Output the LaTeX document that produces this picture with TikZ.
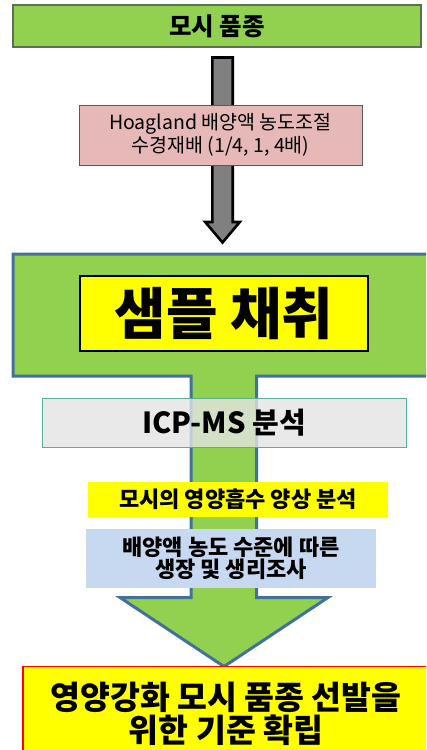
\documentclass[tikz,border=0pt]{standalone}
\usepackage{fontspec}
\setmainfont{Noto Sans CJK KR}
\definecolor{mgreen}{HTML}{92D050}
\definecolor{topedge}{HTML}{5A7050}
\definecolor{bigedge}{HTML}{41719C}
\definecolor{pinkfill}{HTML}{E6B9B8}
\definecolor{pinkedge}{HTML}{595959}
\definecolor{arrowgray}{HTML}{808080}
\definecolor{icpedge}{HTML}{4FB59A}
\definecolor{icpfill}{HTML}{E4E4E4}
\definecolor{bluefill}{HTML}{C6D9F1}
\definecolor{yel}{HTML}{FFFF00}
\begin{document}
\begin{tikzpicture}[x=1pt,y=-1pt,
  box/.style={rectangle, inner sep=0pt, outer sep=0pt, align=center, text=black}]
\useasboundingbox (0,0) rectangle (426,750);
\clip (0,0) rectangle (426,750);
% top box
\node[box, draw=topedge, line width=1.5pt, fill=mgreen, minimum width=408pt, minimum height=42pt,
  font=\fontsize{24.5}{27}\selectfont\bfseries] (top) at (217,26) {모시 품종};
% gray block arrow
\draw[line width=2.6pt, draw=black, fill=arrowgray, miter limit=10]
  (212.3,57.5) -- (232.7,57.5) -- (232.7,222) -- (239.8,222) -- (222.5,242.5)
  -- (205.2,222) -- (212.3,222) -- cycle;
% pink box
\node[box, draw=pinkedge, line width=1pt, fill=pinkfill, minimum width=283pt, minimum height=60pt,
  font=\fontsize{19.5}{22.5}\selectfont] (pink) at (220.5,135) {Hoagland 배양액 농도조절\\수경재배 (1/4, 1, 4배)};
% big green shape
\draw[line width=3pt, draw=bigedge, fill=mgreen, miter limit=10]
  (13,254) -- (440,254) -- (440,376) -- (256.5,376) -- (256.5,597.5) -- (328,597.5)
  -- (224,666.5) -- (120,597.5) -- (191,597.5) -- (191,376) -- (13,376) -- cycle;
% sample box
\node[box, draw=black, line width=1.2pt, fill=yel, minimum width=288pt, minimum height=75pt,
  font=\fontsize{56}{60}\selectfont\bfseries] (sample) at (224,313.5) {샘플 채취};
% ICP box
\node[box, draw=icpedge, line width=1pt, fill=icpfill, fill opacity=0.8, text opacity=1,
  minimum width=364pt, minimum height=49pt,
  font=\fontsize{29}{32}\selectfont\bfseries] (icp) at (224,422.5) {ICP-MS 분석};
% yellow box
\node[box, fill=yel, minimum width=300pt, minimum height=35pt,
  font=\fontsize{22}{25}\selectfont\bfseries] (yellow) at (238,499.5) {모시의 영양흡수 양상 분석};
% blue box
\node[box, fill=bluefill, minimum width=290pt, minimum height=59pt,
  font=\fontsize{22}{22}\selectfont\bfseries] (blue) at (231,558.5) {배양액 농도 수준에 따른\\생장 및 생리조사};
% bottom box
\node[box, draw=red, line width=1.2pt, fill=yel, minimum width=406pt, minimum height=95pt,
  font=\fontsize{32.5}{33}\selectfont\bfseries] (bottom) at (226,714) {영양강화 모시 품종 선발을\\위한 기준 확립};
\end{tikzpicture}
\end{document}
